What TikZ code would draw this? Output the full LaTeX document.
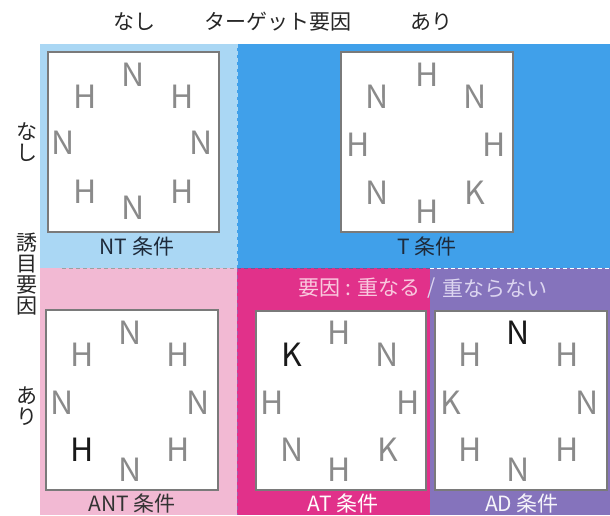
\documentclass[tikz,border=0pt]{standalone}
\usepackage{fontspec}
\setmainfont{Noto Sans CJK JP}
\definecolor{lblue}{HTML}{AAD7F4}
\definecolor{dblue}{HTML}{40A0EA}
\definecolor{lpink}{HTML}{F2B9D3}
\definecolor{mpink}{HTML}{E1318A}
\definecolor{mpurple}{HTML}{8573BC}
\definecolor{lettergrey}{HTML}{8A8A8A}
\definecolor{boxgrey}{HTML}{7A7A7A}
\definecolor{navytext}{HTML}{1E2A3A}
\definecolor{pinktext}{HTML}{F9C8DE}
\definecolor{lavtext}{HTML}{DCD5F0}
\tikzset{
  box/.style={draw=boxgrey, fill=white, line width=1.2pt, inner sep=0pt},
  ltr/.style={font=\fontsize{32}{32}\selectfont, text=lettergrey, inner sep=0pt},
  ltrblack/.style={font=\fontsize{32}{32}\selectfont, text=black!90, inner sep=0pt},
  lbl/.style={font=\fontsize{21}{21}\selectfont, inner sep=0pt},
  vlbl/.style={font=\fontsize{21}{21}\selectfont, align=center, inner sep=0pt, text=black!85},
  divider/.style={dashed, line width=1pt, dash pattern=on 4pt off 3pt}
}
\begin{document}
\begin{tikzpicture}[x=1pt,y=-1pt]
\useasboundingbox (0,0) rectangle (610,515);
% background regions
\fill[lblue] (40,44) rectangle (237,268);
\fill[dblue] (237,44) rectangle (610,268);
\fill[lpink] (40,268) rectangle (237,515);
\fill[mpink] (237,268) rectangle (430,515);
\fill[mpurple] (430,268) rectangle (610,515);
% dividers
\draw[divider, draw=gray!75] (62,268) -- (237,268);
\draw[divider, draw=mpurple!80!black] (237,268) -- (430,268);
\draw[divider, draw=white] (430,268) -- (610,268);
\draw[divider, draw=lblue] (237,44) -- (237,268);
\draw[divider, draw=mpurple!70!mpink] (237,268) -- (237,515);

% top labels
\node[lbl, text=black!85] (tnashi) at (134,22) {なし};
\node[lbl, text=black!85] (ttarget) at (278,22) {ターゲット要因};
\node[lbl, text=black!85] (tari) at (431,22) {あり};
% left labels
\node[vlbl] (lnashi) at (27,142) {な\\し};
\node[vlbl] (lyuumoku) at (27,274) {誘\\目\\要\\因};
\node[vlbl] (lari) at (27,406) {あ\\り};

% boxes
\node[box, minimum width=171pt, minimum height=180pt] (ntbox) at (133.5,142) {};
\node[box, minimum width=172pt, minimum height=180pt] (tbox) at (427,142) {};
\node[box, minimum width=172pt, minimum height=180pt] (antbox) at (132,400) {};
\node[box, minimum width=170pt, minimum height=179pt] (atbox) at (341,400.5) {};
\node[box, minimum width=172pt, minimum height=179pt] (adbox) at (521,400.5) {};

% box captions
\node[lbl, text=navytext] (ntlbl) at (137,246) {NT 条件};
\node[lbl, text=navytext] (tlbl) at (427,246) {T 条件};
\node[lbl, text=black!80] (antlbl) at (132,503) {ANT 条件};
\node[lbl, text=white!95!pink] (atlbl) at (343,503) {AT 条件};
\node[lbl, text=white!92!mpurple] (adlbl) at (522,503) {AD 条件};
\node[lbl, anchor=east, text=pinktext] (overlap) at (421,288) {要因 : 重なる};
\node[lbl, text=lavtext] (slash) at (432,288) {/};
\node[lbl, anchor=west, text=lavtext] (nooverlap) at (442,288) {重ならない};

% NT letters
\node[ltr] (nt1) at (133,75) {N};
\node[ltr] (nt2) at (85,97) {H};
\node[ltr] (nt3) at (182,97) {H};
\node[ltr] (nt4) at (63,143) {N};
\node[ltr] (nt5) at (201,143) {N};
\node[ltr] (nt6) at (85,192) {H};
\node[ltr] (nt7) at (182,192) {H};
\node[ltr] (nt8) at (133,208) {N};
% T letters
\node[ltr] (t1) at (427,75) {H};
\node[ltr] (t2) at (377,97) {N};
\node[ltr] (t3) at (475,97) {N};
\node[ltr] (t4) at (358,145) {H};
\node[ltr] (t5) at (494,145) {H};
\node[ltr] (t6) at (377,193) {N};
\node[ltr] (t7) at (475,193) {K};
\node[ltr] (t8) at (427,212) {H};
% ANT letters
\node[ltr] (ant1) at (130,333) {N};
\node[ltr] (ant2) at (82,355) {H};
\node[ltr] (ant3) at (178,355) {H};
\node[ltr] (ant4) at (62,403) {N};
\node[ltr] (ant5) at (198,403) {N};
\node[ltrblack] (ant6) at (82,450) {H};
\node[ltr] (ant7) at (178,450) {H};
\node[ltr] (ant8) at (130,470) {N};
% AT letters
\node[ltr] (at1) at (339,333) {H};
\node[ltrblack] (at2) at (292,355) {K};
\node[ltr] (at3) at (387,355) {N};
\node[ltr] (at4) at (272,403) {H};
\node[ltr] (at5) at (408,403) {H};
\node[ltr] (at6) at (292,450) {N};
\node[ltr] (at7) at (388,450) {K};
\node[ltr] (at8) at (339,470) {H};
% AD letters
\node[ltrblack] (ad1) at (518,333) {N};
\node[ltr] (ad2) at (470,355) {H};
\node[ltr] (ad3) at (567,355) {H};
\node[ltr] (ad4) at (451,403) {K};
\node[ltr] (ad5) at (587,403) {N};
\node[ltr] (ad6) at (470,450) {H};
\node[ltr] (ad7) at (567,450) {H};
\node[ltr] (ad8) at (518,470) {N};
\end{tikzpicture}
\end{document}
